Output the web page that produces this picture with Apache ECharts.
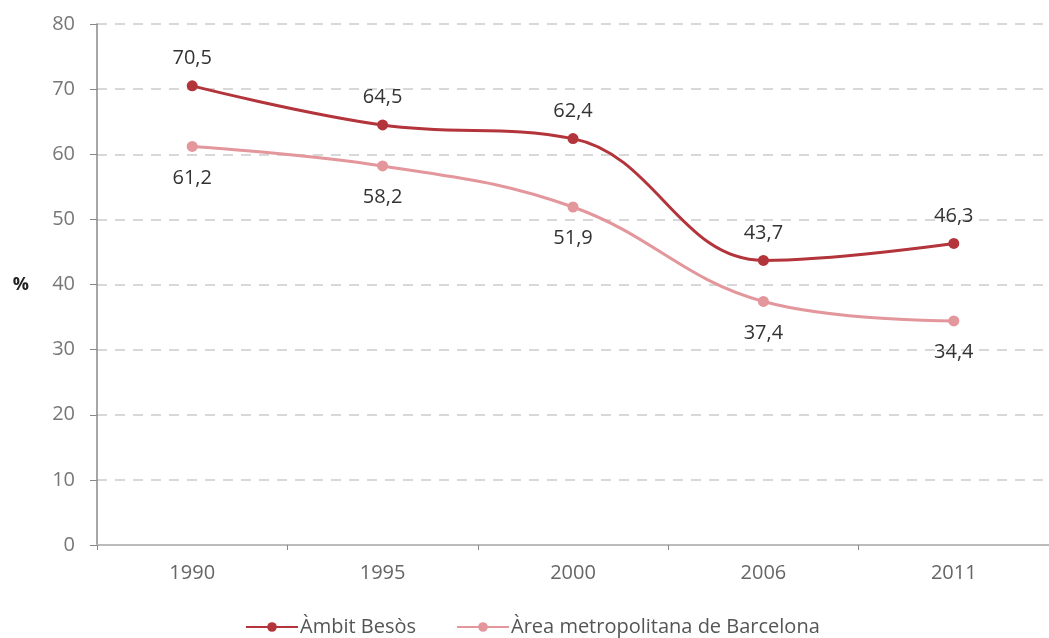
<!DOCTYPE html>
<html style="height: 100%">
  <head>
    <meta charset="utf-8" />
  </head>
  <body style="height: 100%; margin: 0; background: #fff">
    <div id="container" style="height: 100%"></div>
    <script type="text/javascript" src="https://cdn.jsdelivr.net/npm/echarts@6/dist/echarts.min.js"></script>
    <script type="text/javascript">
      var dom = document.getElementById("container");
      var myChart = echarts.init(dom);

      var years = ["1990", "1995", "2000", "2006", "2011"];
      var besos = [70.5, 64.5, 62.4, 43.7, 46.3];
      var amb = [61.2, 58.2, 51.9, 37.4, 34.4];
      var yTicks = { min: 0, max: 80, interval: 10 };

      var fmt = function (p) {
        return String(p.value).replace(".", ",");
      };
      var font = "'Open Sans', 'Noto Sans', sans-serif";

      var option = {
        backgroundColor: "#fff",
        textStyle: { fontFamily: font },
        grid: { left: 97, top: 24, width: 958, bottom: 93 },
        legend: {
          top: 612,
          left: 240,
          itemWidth: 52,
          itemHeight: 12,
          itemGap: 40,
          textStyle: { color: "#555", fontSize: 20, fontFamily: font, padding: [0, 0, 0, -3] },
          data: ["Àmbit Besòs", "Àrea metropolitana de Barcelona"],
        },
        xAxis: {
          type: "category",
          data: years,
          boundaryGap: true,
          axisLine: { lineStyle: { color: "#bbb", width: 2 } },
          axisTick: { show: true, length: 5, lineStyle: { color: "#888" } },
          axisLabel: { color: "#666", fontSize: 20, margin: 18, fontFamily: font },
        },
        yAxis: {
          type: "value",
          min: yTicks.min,
          max: yTicks.max,
          interval: yTicks.interval,
          name: "%",
          nameLocation: "middle",
          nameRotate: 0,
          nameGap: 68,
          nameTextStyle: { color: "#222", fontSize: 18, fontWeight: "bold", fontFamily: font },
          axisLine: { show: true, lineStyle: { color: "#888", width: 1.5 } },
          axisTick: { show: true, length: 7, lineStyle: { color: "#888" } },
          axisLabel: { color: "#777", fontSize: 20, margin: 22, fontFamily: font },
          splitLine: { lineStyle: { color: "#ccc", type: [10, 8], width: 1.5 } },
        },
        series: [
          {
            name: "Àmbit Besòs",
            type: "line",
            data: besos,
            smooth: 0.4,
            symbol: "circle",
            symbolSize: 11,
            lineStyle: { color: "#b3343a", width: 3 },
            itemStyle: { color: "#b3343a" },
            label: {
              show: true,
              position: "top",
              distance: 12,
              color: "#333",
              fontSize: 20,
              fontFamily: font,
              formatter: fmt,
            },
            z: 3,
          },
          {
            name: "Àrea metropolitana de Barcelona",
            type: "line",
            data: amb,
            smooth: 0.4,
            symbol: "circle",
            symbolSize: 11,
            lineStyle: { color: "#e3969b", width: 3 },
            itemStyle: { color: "#e3969b" },
            label: {
              show: true,
              position: "bottom",
              distance: 16,
              color: "#333",
              fontSize: 20,
              fontFamily: font,
              formatter: fmt,
            },
            z: 2,
          },
        ],
      };

      myChart.setOption(option);
    </script>
  </body>
</html>
